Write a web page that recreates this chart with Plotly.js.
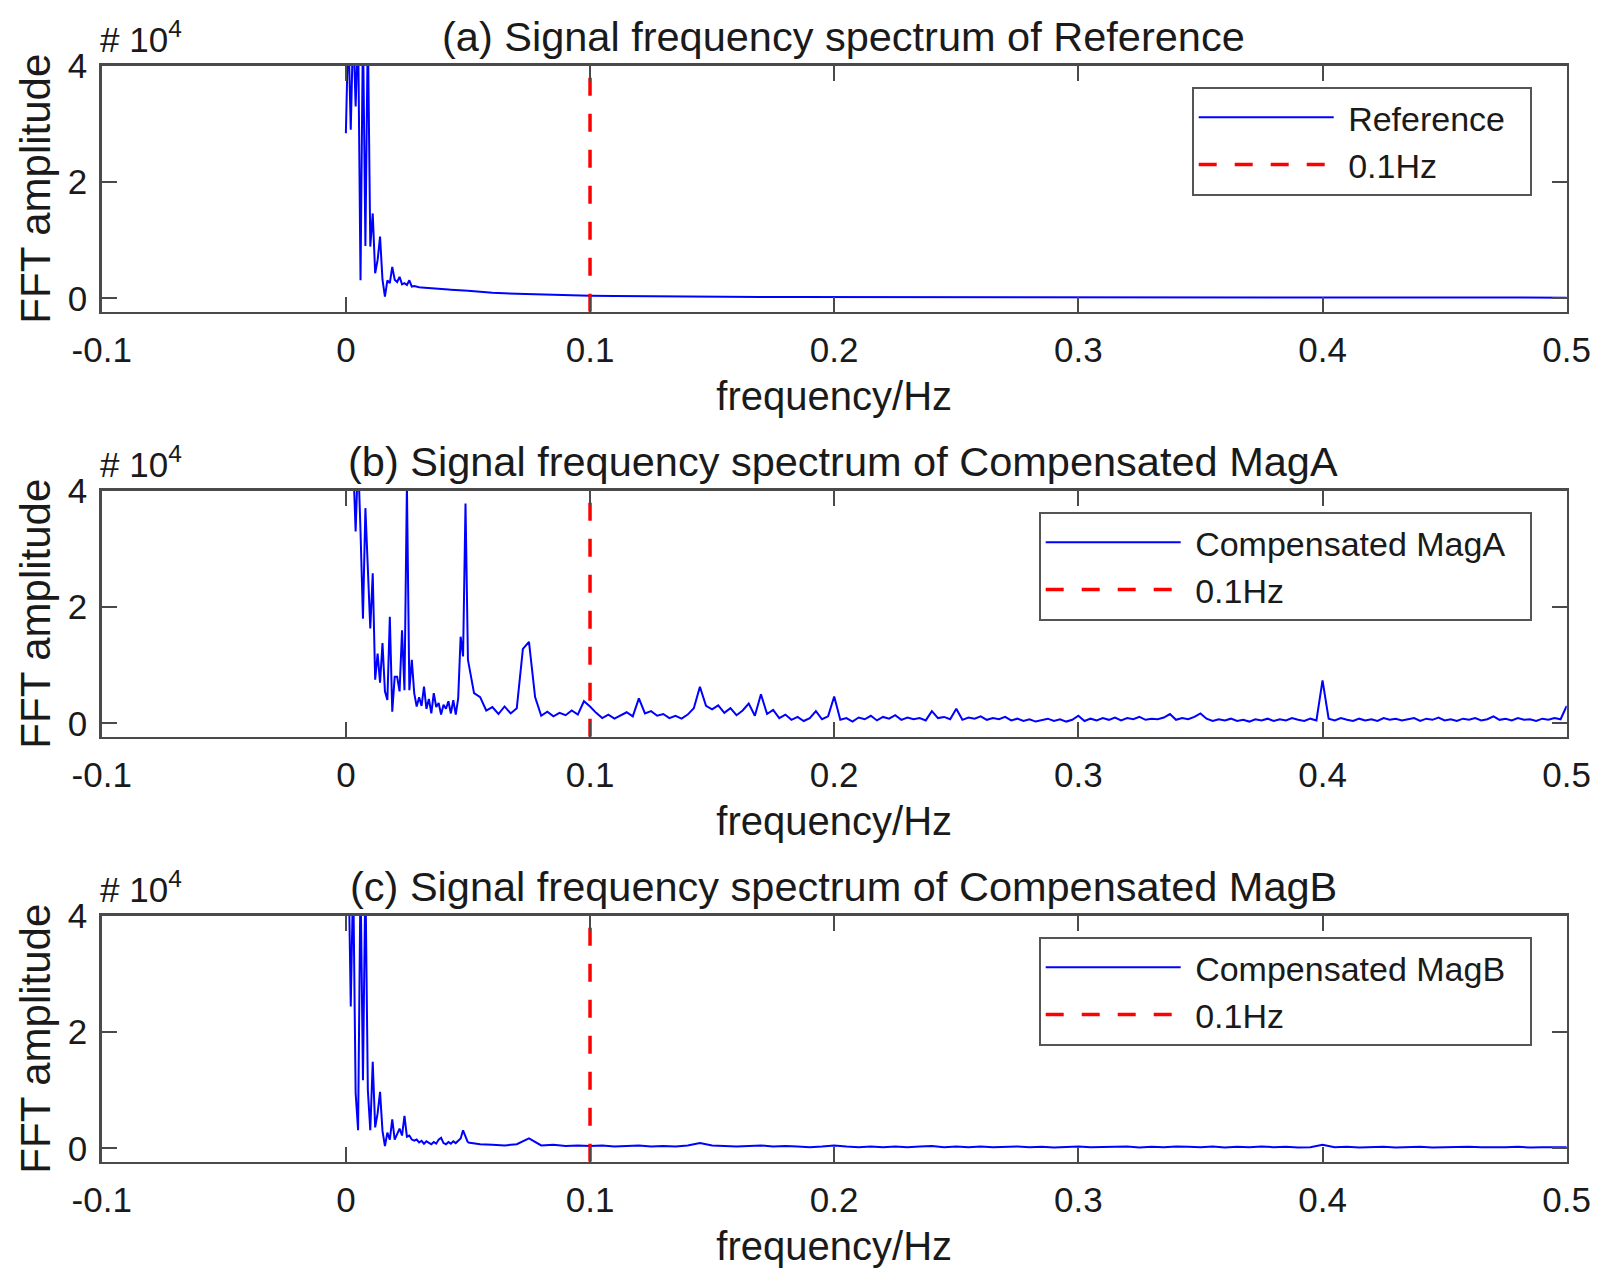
<!DOCTYPE html>
<html>
<head>
<meta charset="utf-8">
<script src="https://cdn.plot.ly/plotly-3.0.1.min.js"></script>
<style>html,body{margin:0;padding:0;background:#fff;}#chart{width:1606px;height:1288px;}</style>
</head>
<body>
<div id="chart"></div>
<script>
// ---------------- data ----------------
// Low-frequency segment: 0 .. 0.05 Hz, bin width 0.001 Hz
const lowStart = 0, lowStep = 0.001;
// High-frequency segment starts at 0.05 Hz
const highStart = 0.05;
const refHighStep = 0.01, magAHighStep = 0.0025, magBHighStep = 0.005;

const refLow = [28400,47000,29000,47000,33000,47000,3100,47000,9000,47000,
  8900,14600,4300,6600,10600,3200,280,3100,2600,5400,
  3200,2800,3700,2400,2600,2300,3100,2000,2100,1950,
  1900,1870,1850,1810,1780,1740,1700,1670,1640,1610,
  1580,1550,1520,1490,1460,1430,1400,1380,1350,1320,1300];
const refHigh = [1300,950,780,640,520,430,380,340,310,290,
  270,250,240,230,220,210,205,200,195,190,
  185,180,175,170,165,160,158,155,152,150,
  148,145,142,140,138,135,132,130,128,126,
  125,124,123,122,121,120];

const magALow = [60000,55000,50000,45000,33000,46000,33000,18000,37000,27500,
  16300,25800,7500,12000,7000,13800,5500,4000,18300,2000,
  8000,8000,5500,16000,5700,41000,5700,10900,5200,2900,
  4500,3000,6300,2500,4200,1700,5200,2800,3500,1500,
  3200,2500,3800,1700,4000,1500,4300,14900,11500,37800,10900];
const magAHigh = [10900,5200,4500,2200,2800,1600,2900,1700,2600,12800,
  14000,4500,1300,2000,1200,1800,1400,2200,1500,3800,
  2900,1800,900,1500,800,1400,1900,1200,4300,1700,
  2100,1300,1600,900,1300,800,1500,2600,6300,3000,
  2400,3100,1800,2600,1400,2200,3400,1300,5000,1600,
  2300,900,1500,600,1100,400,900,2100,700,1200,
  4600,600,900,300,1000,700,1300,500,1100,800,
  1400,600,1000,700,900,500,2100,900,1100,700,
  2500,600,1000,800,1200,600,900,700,1100,500,
  800,400,700,300,600,800,400,700,300,600,
  1300,400,800,500,900,600,1000,500,900,700,
  1100,600,800,700,1000,1600,600,900,700,1100,
  1700,800,400,700,500,800,400,600,300,700,
  500,800,400,700,500,900,600,400,800,500,
  7400,800,500,900,600,400,800,500,700,400,
  900,600,800,500,700,900,400,800,600,1000,
  500,700,400,800,600,900,500,700,1200,600,
  800,500,900,600,700,400,800,600,900,700,3000];

const magBLow = [60000,52000,24400,47000,9500,3100,47000,11700,47000,10000,
  3100,14900,3600,6000,9700,3000,400,2700,1500,5000,
  1500,2600,3400,2200,5600,2000,2200,1500,1300,1500,
  1000,1300,800,1200,900,700,1100,800,1500,1800,
  900,700,1100,800,1200,900,1300,1700,3100,1900,1000];
const magBHigh = [1000,700,600,500,700,1700,500,600,400,500,
  400,500,300,400,500,300,400,300,500,900,
  500,400,300,400,500,300,400,300,200,300,
  500,300,200,300,200,300,200,300,400,200,
  300,200,300,200,250,300,200,250,150,250,
  300,200,250,200,300,150,250,200,300,250,
  200,300,150,250,200,300,200,250,150,200,
  600,200,250,150,200,250,150,200,250,150,
  200,150,250,200,150,200,250,150,200,150,200];

const cutoffFreq = 0.1;
const xTickVals = [-0.1, 0, 0.1, 0.2, 0.3, 0.4, 0.5];
const xTickText = ['-0.1', '0', '0.1', '0.2', '0.3', '0.4', '0.5'];
const yTickVals = [0, 20000, 40000];
const yTickText = ['0', '2', '4'];
const xRange = [-0.1, 0.5];
const yRange = [-2300, 40000];

const panelTitles = [
  '(a) Signal frequency spectrum of Reference',
  '(b) Signal frequency spectrum of Compensated MagA',
  '(c) Signal frequency spectrum of Compensated MagB'
];
const seriesNames = ['Reference', 'Compensated MagA', 'Compensated MagB'];
const cutoffName = '0.1Hz';
const xLabel = 'frequency/Hz';
const yLabel = 'FFT amplitude';
const exponentLabel = '# 10<sup>4</sup>';

// ---------------- layout helpers ----------------
const FONT = 'Liberation Sans, Arial, Helvetica, sans-serif';
const W = 1606, H = 1288;
const plotLeft = 101.7, plotRight = 1566.7;
const panelTops = [65.7, 490.7, 915.7];
const panelHeight = 246;
const xDom = [plotLeft / W, plotRight / W];
const blue = '#0000ff', red = '#ff0000', axisCol = '#4a4a4a', textCol = '#1a1a1a';
const pad = '\u00a0';

const lows = [refLow, magALow, magBLow];
const highs = [refHigh, magAHigh, magBHigh];
const highSteps = [refHighStep, magAHighStep, magBHighStep];

const traces = [];
const layout = {
  width: W, height: H,
  margin: {l: 0, r: 0, t: 0, b: 0, pad: 0},
  paper_bgcolor: '#fff', plot_bgcolor: '#fff',
  font: {family: FONT, color: textCol, size: 34},
  showlegend: true,
  annotations: []
};

for (let i = 0; i < 3; i++) {
  const sfx = i === 0 ? '' : String(i + 1);
  const xa = 'x' + sfx, ya = 'y' + sfx;
  const lg = 'legend' + sfx;
  traces.push({
    type: 'scatter', mode: 'lines', name: pad + seriesNames[i] + pad + pad,
    x0: lowStart, dx: lowStep, y: lows[i],
    xaxis: xa, yaxis: ya, legend: lg, legendgroup: 'g' + i,
    line: {color: blue, width: 2}
  });
  traces.push({
    type: 'scatter', mode: 'lines', name: seriesNames[i], showlegend: false,
    x0: highStart, dx: highSteps[i], y: highs[i],
    xaxis: xa, yaxis: ya, legend: lg, legendgroup: 'g' + i,
    line: {color: blue, width: 2}
  });
  traces.push({
    type: 'scatter', mode: 'lines', name: pad + cutoffName,
    x: [cutoffFreq, cutoffFreq], y: yRange,
    xaxis: xa, yaxis: ya, legend: lg,
    line: {color: red, width: 3.5, dash: '18px,18px'}
  });

  const top = panelTops[i], bot = top + panelHeight;
  const yDom = [1 - bot / H, 1 - top / H];
  const common = {
    showline: true, linecolor: axisCol, linewidth: 2.5, mirror: 'ticks',
    ticks: 'inside', ticklen: 15, tickwidth: 2, tickcolor: axisCol,
    showgrid: false, zeroline: false, fixedrange: true,
    tickfont: {family: FONT, size: 35, color: textCol}
  };
  layout['xaxis' + sfx] = Object.assign({}, common, {
    domain: xDom, anchor: ya, range: xRange,
    tickmode: 'array', tickvals: xTickVals, ticktext: xTickText,
    ticklabelstandoff: 6,
    title: {text: xLabel, font: {family: FONT, size: 40, color: textCol}, standoff: 14}
  });
  layout['yaxis' + sfx] = Object.assign({}, common, {
    domain: yDom, anchor: xa, range: yRange,
    tickmode: 'array', tickvals: yTickVals, ticktext: yTickText,
    ticklabelstandoff: 5,
    title: {text: yLabel, font: {family: FONT, size: 42, color: textCol}, standoff: 4}
  });
  layout[lg] = {
    x: 1531.7 / W, xanchor: 'right',
    y: 1 - (top + 21) / H, yanchor: 'top',
    bgcolor: '#fff', bordercolor: '#555', borderwidth: 2,
    font: {family: FONT, size: 34, color: textCol},
    itemwidth: 135, tracegroupgap: 0
  };
  layout.annotations.push({
    xref: 'paper', yref: 'paper', x: 843 / W, y: 1 - (top - 29.7) / H,
    xanchor: 'center', yanchor: 'middle', showarrow: false,
    text: panelTitles[i], font: {family: FONT, size: 41.5, color: textCol}
  });
  layout.annotations.push({
    xref: 'paper', yref: 'paper', x: (plotLeft - 4) / W, y: 1 - (top - 5) / H,
    xanchor: 'left', yanchor: 'bottom', showarrow: false,
    text: exponentLabel, font: {family: FONT, size: 35, color: textCol}
  });
}

Plotly.newPlot('chart', traces, layout, {staticPlot: true, displayModeBar: false});
</script>
</body>
</html>
